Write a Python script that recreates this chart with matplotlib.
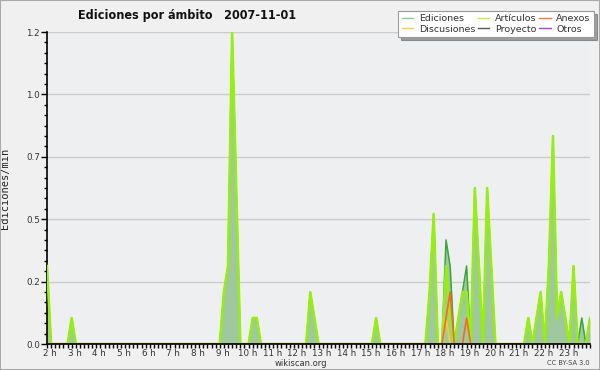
import numpy as np
import matplotlib
matplotlib.use("Agg")
from matplotlib import pyplot as plt
from matplotlib import transforms
from matplotlib.ticker import MultipleLocator, FixedLocator, FuncFormatter
from matplotlib.patches import Rectangle

# 10 minute bins from 2 h to 24 h, edits per minute
# one row per hour (6 bins), last row is the 24 h point
ediciones = [
    0.3, 0, 0, 0, 0, 0,        # 2 h
    0.1, 0, 0, 0, 0, 0,        # 3 h
    0, 0, 0, 0, 0, 0,          # 4 h
    0, 0, 0, 0, 0, 0,          # 5 h
    0, 0, 0, 0, 0, 0,          # 6 h
    0, 0, 0, 0, 0, 0,          # 7 h
    0, 0, 0, 0, 0, 0,          # 8 h
    0, 0.2, 0.3, 1.2, 0.6, 0,  # 9 h
    0, 0, 0.1, 0.1, 0, 0,      # 10 h
    0, 0, 0, 0, 0, 0,          # 11 h
    0, 0, 0, 0, 0.2, 0.1,      # 12 h
    0, 0, 0, 0, 0, 0,          # 13 h
    0, 0, 0, 0, 0, 0,          # 14 h
    0, 0, 0.1, 0, 0, 0,        # 15 h
    0, 0, 0, 0, 0, 0,          # 16 h
    0, 0, 0, 0.2, 0.5, 0,      # 17 h
    0, 0.4, 0.3, 0, 0.1, 0.2,  # 18 h
    0.3, 0, 0.6, 0.3, 0, 0.6,  # 19 h
    0.3, 0, 0, 0, 0, 0,        # 20 h
    0, 0, 0, 0.1, 0, 0.1,      # 21 h
    0.2, 0, 0.3, 0.8, 0.1, 0.2,  # 22 h
    0.1, 0, 0.3, 0, 0.1, 0,    # 23 h
    0.1,                       # 24 h
]

articulos = list(ediciones)
articulos[97] = 0.3
articulos[98] = 0.1
articulos[102] = 0.2
articulos[130] = 0

anexos = [0] * len(ediciones)
anexos[97] = 0.1
anexos[98] = 0.2
anexos[102] = 0.1

discusiones = [0] * len(ediciones)
discusiones[97] = 0.1

proyecto = [0] * len(ediciones)
otros = [0] * len(ediciones)

hours = list(range(2, 24))
hour_labels = [str(h) + " h" for h in hours]

t = 2 + np.arange(len(ediciones)) / 6.0

fig = plt.figure(figsize=(6, 3.7), dpi=100, facecolor='#f0f0f0')
ax = fig.add_axes([47 / 600, 1 - 344 / 370, 543 / 600, 312 / 370])
ax.set_facecolor('#eeeff0')

# filled total + series lines
ax.fill_between(t, 0, ediciones, color='#9ec99e', lw=0, zorder=2)
ax.plot(t, ediciones, color='#3aa63a', lw=1.1, zorder=3)
ax.plot(t, articulos, color='#99ee11', lw=1.8, zorder=4)
ax.plot(t, proyecto, color='#555555', lw=1, zorder=1)
ax.plot(t, otros, color='#9944ee', lw=1, zorder=1)
ax.plot(t, discusiones, color='#ffcc22', lw=1.2, zorder=5)
ax.plot(t, anexos, color='#ff6622', lw=1.2, zorder=6)

ax.set_xlim(2, 24)
ax.set_ylim(0, max(ediciones))

ymax = max(ediciones)
ax.yaxis.set_major_locator(FixedLocator([ymax * k / 5 for k in range(6)]))
ax.yaxis.set_major_formatter(FuncFormatter(lambda v, p: "%.1f" % v))
ax.yaxis.set_minor_locator(MultipleLocator(ymax / 30))
ax.xaxis.set_major_locator(FixedLocator(hours))
ax.set_xticklabels(hour_labels)
ax.xaxis.set_minor_locator(MultipleLocator(1 / 6.0))

ax.grid(axis='y', color='#cccccc', lw=1, zorder=0)
ax.set_axisbelow(True)

for s in ['top', 'right']:
    ax.spines[s].set_visible(False)
ax.spines['left'].set_linewidth(1.2)
ax.spines['bottom'].set_linewidth(1.2)
ax.spines['bottom'].set_zorder(10)

ax.tick_params(axis='y', which='major', length=4, width=1, labelsize=6.3, labelcolor='#333333', pad=1)
ax.tick_params(axis='y', which='minor', length=2.5, width=1)
ax.tick_params(axis='x', which='both', length=3, width=1, labelsize=6.3, labelcolor='#333333', pad=0.5)

# hour labels sit a bit right of their tick
off = transforms.ScaledTranslation(0.03, 0, fig.dpi_scale_trans)
for lab in ax.get_xticklabels():
    lab.set_transform(lab.get_transform() + off)

ax.set_ylabel('Ediciones/min', family='DejaVu Sans Mono', fontsize=7.5, color='#222222')
ax.yaxis.set_label_coords(-0.068, 0.5)

fig.text(187 / 600, 1 - 15 / 370, 'Ediciones por ámbito   2007-11-01', ha='center', va='center',
         fontsize=9, fontweight='bold', color='#111111', fontstretch='condensed')
fig.text(301 / 600, 1 - 363.5 / 370, 'wikiscan.org', ha='center', va='center', fontsize=6, color='#333333')
fig.text(590 / 600, 1 - 363 / 370, 'CC BY-SA 3.0', ha='right', va='center', fontsize=4.8, color='#444444')

# legend, column-wise order
h_ed, = ax.plot([], [], color='#88cc88', lw=1)
h_di, = ax.plot([], [], color='#ffcc44', lw=1)
h_ar, = ax.plot([], [], color='#ccee44', lw=1)
h_pr, = ax.plot([], [], color='#555555', lw=1)
h_an, = ax.plot([], [], color='#ff7744', lw=1)
h_ot, = ax.plot([], [], color='#9944ee', lw=1)
leg = fig.legend([h_ed, h_di, h_ar, h_pr, h_an, h_ot],
                 ['Ediciones', 'Discusiones', 'Artículos', 'Proyecto', 'Anexos', 'Otros'],
                 ncol=3, loc='upper right', bbox_to_anchor=(594 / 600, 1 - 11 / 370),
                 fontsize=6.8, frameon=True, fancybox=False, shadow=True,
                 handlelength=1.2, handletextpad=0.6, columnspacing=0.3,
                 labelspacing=0.15, borderpad=0.35, borderaxespad=0)
leg.get_frame().set_edgecolor('#999999')
leg.get_frame().set_linewidth(0.8)
for txt in leg.get_texts():
    txt.set_color('#333333')

# outer border
fig.patches.append(Rectangle((0, 0), 1, 1, transform=fig.transFigure, fill=False,
                             edgecolor='#aaaaaa', lw=1.5))

plt.savefig('out.png', dpi=100, facecolor=fig.get_facecolor())
